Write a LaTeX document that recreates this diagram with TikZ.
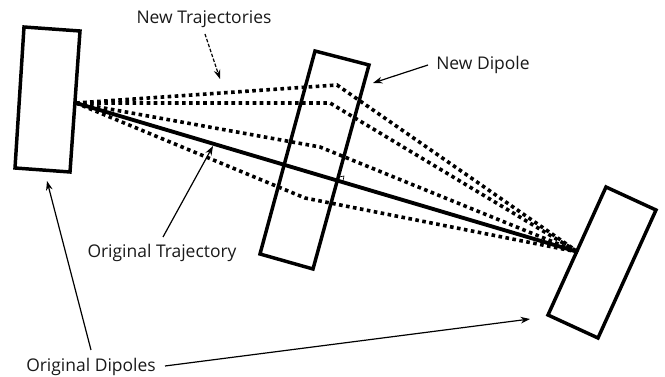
\documentclass[tikz,border=0pt]{standalone}
\usepackage{fontspec}
\setmainfont{Open Sans}
\usetikzlibrary{arrows.meta}
\tikzset{
  dipole/.style={draw=black,line width=2.6pt,line join=miter,fill=none},
  solidpath/.style={draw=black,line width=2.9pt},
  newpath/.style={draw=black,line width=2.7pt,dash pattern=on 2.7pt off 2.6pt},
  pointer/.style={draw=black,line width=0.9pt,-{Stealth[length=7pt,width=5pt]}},
  dashpointer/.style={pointer,dash pattern=on 2.6pt off 1.3pt},
  lbl/.style={font=\fontsize{13.1pt}{15pt}\selectfont,text=black!90,inner sep=0pt},
}
\begin{document}
\begin{tikzpicture}[x=0.75pt,y=-0.75pt]
\useasboundingbox (0,0) rectangle (665,377);
% dipoles
\draw[dipole] (24,27) -- (80,31) -- (70,172) -- (15,168) -- cycle;
\draw[dipole] (315,51) -- (369,65) -- (313,269) -- (260,254) -- cycle;
\draw[dipole] (606,187) -- (656,210) -- (598,338) -- (548,315) -- cycle;
% trajectory ends
\coordinate (src) at (76,103);
\coordinate (dst) at (578,252);
\coordinate (k1) at (337,85);
\coordinate (k2) at (330,103);
\coordinate (k3) at (320,147);
\coordinate (k4) at (305,198);
\draw[solidpath] (src) -- (dst);
\draw[newpath] (src) -- (k1) -- (dst);
\draw[newpath] (src) -- (k2) -- (dst);
\draw[newpath] (src) -- (k3) -- (dst);
\draw[newpath] (src) -- (k4) -- (dst);
% right angle mark
\draw[black,line width=0.5pt] (339,177) -- (344,176) -- (343,181);
% labels
\node[lbl] (nt) at (204,19) {New Trajectories};
\node[lbl] (nd) at (483,65) {New Dipole};
\node[lbl] (ot) at (162,253) {Original Trajectory};
\node[lbl] (od) at (91,367) {Original Dipoles};
% pointers
\coordinate (ntS) at (205,34);
\coordinate (ntE) at (220,79);
\coordinate (ndS) at (428,65);
\coordinate (ndE) at (373,83);
\coordinate (otS) at (163,237);
\coordinate (otE) at (213,146);
\coordinate (odS) at (91,350);
\coordinate (odE) at (47,181);
\coordinate (odS2) at (165,366);
\coordinate (odE2) at (530,319);
\draw[dashpointer] (ntS) -- (ntE);
\draw[pointer] (ndS) -- (ndE);
\draw[pointer] (otS) -- (otE);
\draw[pointer] (odS) -- (odE);
\draw[pointer] (odS2) -- (odE2);
\end{tikzpicture}
\end{document}
